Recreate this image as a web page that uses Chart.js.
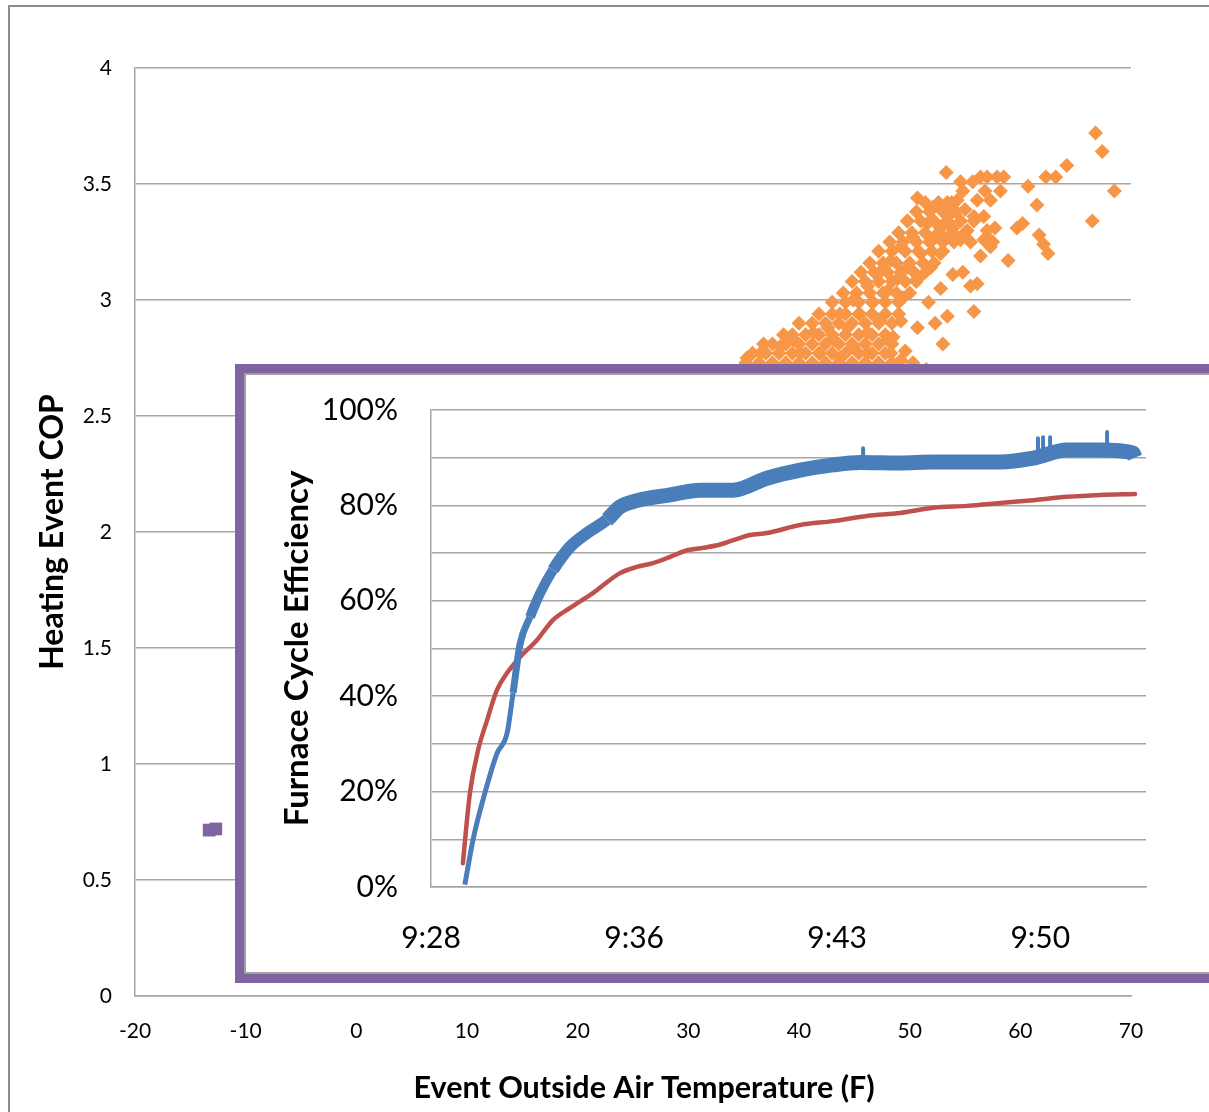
<!DOCTYPE html>
<html>
<head>
<meta charset="utf-8">
<script src="https://cdn.jsdelivr.net/npm/chart.js@4/dist/chart.umd.min.js"></script>
<style>
  html, body { margin: 0; padding: 0; overflow: hidden; background: #fff; width: 1209px; height: 1112px; }
  #frame { position: absolute; left: 8px; top: 5px; width: 1400px; height: 1300px;
           border-left: 2px solid #8c8c8c; border-top: 2px solid #8c8c8c; }
  #outer { position: absolute; left: 0; top: 0; }
  #insetBox { position: absolute; left: 235px; top: 364px; width: 1000px; height: 601px;
              border: 9px solid #8064A2; background: #fff; box-shadow: inset 0 0 0 2px #a0a0a0; }
  #inset { position: absolute; left: 0; top: 0; }
</style>
</head>
<body>
<div id="frame"></div>
<canvas id="outer" width="1209" height="1112"></canvas>
<div id="insetBox"><canvas id="inset" width="1000" height="601"></canvas></div>

<script>
// Outer chart: heat pump events (orange) and furnace events (purple)
const heatPumpTemp = [53.3, 66.8, 67.4, 68.5, 66.5, 64.2, 63.2, 62.3, 60.7, 61.5, 60.2, 59.7, 61.7, 62.1, 62.5,
    58.9, 56.4, 57.5, 57.0, 57.7, 55.8, 53.0, 54.8, 56.1, 55.5, 53.9, 52.8, 53.4, 52.3, 51.7, 50.7, 49.6, 48.5,
    50.3, 55.5, 56.4, 57.0, 57.9, 58.5, 54.6, 55.7, 54.8, 56.8, 58.2, 57.3, 56.1, 50.7, 52.1, 53.4, 54.3, 53.9,
    55.8, 56.7, 49.8, 51.6, 52.8, 53.9, 55.2, 57.0, 54.6, 56.7, 57.3, 52.1, 50.3, 49.2, 51.0, 52.8, 48.3, 49.8,
    51.9, 47.3, 48.9, 50.7, 46.2, 48.0, 49.4, 44.9, 46.7, 43.7, 45.5, 47.3, 49.2, 42.6, 44.4, 46.2, 48.0, 41.3,
    39.5, 43.1, 44.9, 38.3, 40.1, 41.9, 43.7, 46.2, 36.5, 35.3, 48.3, 49.2,
    53.2, 54.1, 55.0, 35.0, 51.5,
    // dense core, row by row
    35.2, 36.4, 37.6, 38.8, 40.0, 41.2, 42.4, 43.6, 44.8, 46.0, 47.2, 48.4,
    35.8, 37.0, 38.2, 39.4, 40.6, 41.8, 43.0, 44.2, 45.4, 46.6, 47.8,
    36.8, 37.6, 38.8, 40.0, 41.2, 42.4, 43.6, 44.8, 46.0, 47.2, 48.4,
    38.6, 39.4, 40.6, 41.8, 43.0, 44.2, 45.4, 46.6, 47.8,
    40.0, 41.2, 42.4, 43.6, 44.8, 46.0, 47.2, 48.4,
    41.8, 43.0, 44.2, 45.4, 46.6, 47.8, 49.0,
    43.0, 44.2, 45.4, 46.6, 47.8, 49.0,
    44.0, 45.2, 46.4, 47.6, 48.8, 50.0,
    44.8, 46.0, 47.2, 48.4, 49.6, 50.6,
    45.6, 46.8, 48.0, 49.2, 50.4, 51.4,
    46.4, 47.6, 48.8, 50.0, 51.2, 52.2,
    47.2, 48.4, 49.6, 50.8, 52.0, 53.0,
    48.2, 49.4, 50.6, 51.8, 53.0, 54.0,
    49.0, 50.2, 51.4, 52.6, 53.8, 55.0,
    49.8, 51.0, 52.2, 53.4, 54.6, 55.8,
    50.6, 51.8, 53.0, 54.2,
    51.4, 52.6, 53.8];
const heatPumpCop = [3.55, 3.72, 3.64, 3.47, 3.34, 3.58, 3.53, 3.53, 3.49, 3.41, 3.33, 3.31, 3.28, 3.24, 3.20,
    3.17, 3.19, 3.25, 3.27, 3.31, 2.95, 2.81, 3.12, 3.07, 3.06, 3.11, 3.05, 2.93, 2.90, 2.99, 2.88, 2.78, 2.84,
    2.73, 3.25, 3.53, 3.53, 3.53, 3.53, 3.51, 3.51, 3.47, 3.47, 3.47, 3.43, 3.43, 3.44, 3.40, 3.42, 3.43, 3.38,
    3.36, 3.36, 3.34, 3.33, 3.31, 3.31, 3.30, 3.30, 3.26, 3.26, 3.23, 3.26, 3.27, 3.23, 3.20, 3.20, 3.17, 3.14,
    3.14, 3.12, 3.09, 3.09, 3.06, 3.04, 3.01, 3.00, 2.99, 2.94, 2.94, 2.91, 2.91, 2.88, 2.88, 2.86, 2.83, 2.86,
    2.83, 2.83, 2.80, 2.80, 2.77, 2.77, 2.75, 2.77, 2.77, 2.75, 2.77, 2.74,
    3.26, 3.28, 3.39, 2.70, 2.70,
    2.73, 2.73, 2.73, 2.73, 2.73, 2.73, 2.73, 2.73, 2.73, 2.73, 2.73, 2.73,
    2.77, 2.77, 2.77, 2.77, 2.77, 2.77, 2.77, 2.77, 2.77, 2.77, 2.77,
    2.81, 2.81, 2.81, 2.81, 2.81, 2.81, 2.81, 2.81, 2.81, 2.81, 2.81,
    2.85, 2.85, 2.85, 2.85, 2.85, 2.85, 2.85, 2.85, 2.85,
    2.90, 2.90, 2.90, 2.90, 2.90, 2.90, 2.90, 2.90,
    2.94, 2.94, 2.94, 2.94, 2.94, 2.94, 2.94,
    2.99, 2.99, 2.99, 2.99, 2.99, 2.99,
    3.03, 3.03, 3.03, 3.03, 3.03, 3.03,
    3.08, 3.08, 3.08, 3.08, 3.08, 3.08,
    3.12, 3.12, 3.12, 3.12, 3.12, 3.12,
    3.16, 3.16, 3.16, 3.16, 3.16, 3.16,
    3.21, 3.21, 3.21, 3.21, 3.21, 3.21,
    3.25, 3.25, 3.25, 3.25, 3.25, 3.25,
    3.29, 3.29, 3.29, 3.29, 3.29, 3.29,
    3.34, 3.34, 3.34, 3.34, 3.34, 3.34,
    3.38, 3.38, 3.38, 3.38,
    3.42, 3.42, 3.42];
const furnaceTemp = [-13.3, -12.7];
const furnaceCop = [0.715, 0.72];

// Inset chart: minutes after the first axis label (9:28), efficiency in %
const insetTimeTicks = [0, 7.2, 14.4, 21.6];
const insetTimeLabels = ['9:28', '9:36', '9:43', '9:50'];

const measuredMin = [1.20, 1.49, 1.84, 2.34, 2.70, 2.91, 3.16, 3.51, 3.87, 4.33, 4.93, 5.53, 6.24, 6.70, 7.30,
    8.48, 9.54, 10.71, 11.91, 13.09, 14.26, 15.21, 16.63, 17.80, 19.01, 20.18, 21.35, 22.55, 23.72, 24.89, 24.96];
const measuredEff = [0.5, 9.9, 18.2, 28, 32.3, 40.7, 51, 56.6, 61.6, 66.5, 71.3, 74.2, 77, 79.7, 81,
    82.2, 83.2, 83.2, 85.7, 87.4, 88.5, 89, 88.9, 89.1, 89.1, 89.1, 89.9, 91.6, 91.6, 91, 90];

const spikeMin = [15.32, 15.32, 15.32, 21.52, 21.52, 21.52, 21.70, 21.70, 21.70, 21.95, 21.95, 21.95, 23.97, 23.97];
const spikeEff = [89, 92, null, 90, 94.1, null, 90, 94.3, null, 90.5, 94.3, null, 91.5, 95.4];

const modelMin = [1.13, 1.38, 1.67, 1.99, 2.34, 2.70, 3.16, 3.76, 4.33, 4.93, 5.74, 6.70, 7.30, 7.87, 8.48, 9.08,
    9.65, 10.25, 10.71, 11.31, 11.91, 13.09, 14.26, 15.46, 16.63, 17.80, 19.01, 20.18, 21.35, 22.55, 23.72, 24.96];
const modelEff = [5, 19.7, 28.7, 35, 41.3, 44.9, 48.2, 51.8, 56, 58.5, 61.6, 65.8, 67.1, 67.9, 69.2, 70.6,
    71.1, 71.8, 72.7, 73.8, 74.2, 75.9, 76.7, 77.8, 78.4, 79.5, 79.9, 80.5, 81.1, 81.8, 82.2, 82.4];

const FONT = 'Lato, "Liberation Sans", sans-serif';
const GRID = '#a6a6a6';

function zip(xs, ys) {
    return xs.map((x, i) => ({ x: x, y: ys[i] }));
}

Chart.defaults.font.family = FONT;
Chart.defaults.color = '#000';

new Chart(document.getElementById('outer'), {
    type: 'scatter',
    data: {
        datasets: [{
            data: zip(heatPumpTemp, heatPumpCop),
            pointStyle: 'rectRot',
            pointRadius: 7.5,
            backgroundColor: '#F79646',
            borderWidth: 0
        }, {
            data: zip(furnaceTemp, furnaceCop),
            pointStyle: 'rect',
            pointRadius: 9,
            backgroundColor: '#8064A2',
            borderWidth: 0
        }]
    },
    options: {
        responsive: false,
        animation: false,
        events: [],
        layout: { padding: { top: 68, right: 78, left: 0, bottom: 0 } },
        plugins: { legend: { display: false }, tooltip: { enabled: false } },
        scales: {
            x: {
                type: 'linear', min: -20, max: 70,
                ticks: { stepSize: 10, padding: 23, font: { size: 21 } },
                grid: { display: false, drawTicks: false },
                border: { color: GRID, width: 1.5 },
                title: {
                    display: true, text: '   Event Outside Air Temperature (F)',
                    font: { size: 30.5, weight: 'bold' }, padding: { top: 0, bottom: 6 }
                },
                afterFit: s => { s.height = 116; }
            },
            y: {
                min: 0, max: 4,
                ticks: { stepSize: 0.5, padding: 23, font: { size: 21 }, callback: v => String(v) },
                grid: { color: GRID, lineWidth: 1.5, drawTicks: false },
                border: { color: GRID, width: 1.5 },
                title: {
                    display: true, text: 'Heating Event COP',
                    font: { size: 32, weight: 'bold' }, padding: { top: 33, bottom: 0 }
                },
                afterFit: s => { s.width = 135; }
            }
        }
    }
});

// Blue trace gets thicker (noisier) once it levels off
const blueWidth = ctx => {
    const x = ctx.p0.parsed.x;
    if (x < 2.8) return 5;
    if (x < 3.3) return 7;
    if (x < 3.9) return 10;
    if (x < 6.0) return 12;
    return 15;
};

new Chart(document.getElementById('inset'), {
    type: 'line',
    data: {
        datasets: [{
            data: zip(measuredMin, measuredEff),
            borderColor: '#4A7EBB',
            borderWidth: 5,
            borderCapStyle: 'butt',
            borderJoinStyle: 'round',
            segment: { borderWidth: blueWidth },
            cubicInterpolationMode: 'monotone',
            pointRadius: 0
        }, {
            data: zip(spikeMin, spikeEff),
            borderColor: '#4A7EBB',
            borderWidth: 4,
            borderCapStyle: 'round',
            spanGaps: false,
            pointRadius: 0
        }, {
            data: zip(modelMin, modelEff),
            borderColor: '#C0504D',
            borderWidth: 4.5,
            borderCapStyle: 'round',
            cubicInterpolationMode: 'monotone',
            pointRadius: 0
        }]
    },
    options: {
        responsive: false,
        animation: false,
        events: [],
        layout: { padding: { top: 37, right: 98, left: 0, bottom: 0 } },
        plugins: { legend: { display: false }, tooltip: { enabled: false } },
        scales: {
            x: {
                type: 'linear', min: 0, max: 25.35,
                afterBuildTicks: s => { s.ticks = insetTimeTicks.map(v => ({ value: v })); },
                ticks: {
                    padding: 33, font: { size: 30 }, maxRotation: 0, autoSkip: false,
                    callback: (v, i) => insetTimeLabels[i]
                },
                grid: { display: false, drawTicks: false },
                border: { color: GRID, width: 1.5 },
                afterFit: s => { s.height = 87; }
            },
            y: {
                min: 0, max: 100,
                ticks: {
                    stepSize: 10, padding: 33, font: { size: 30 },
                    callback: v => (v % 20 === 0 ? v + '%' : '')
                },
                grid: { color: GRID, lineWidth: 1.5, drawTicks: false },
                border: { color: GRID, width: 1.5 },
                title: {
                    display: true, text: 'Furnace Cycle Efficiency',
                    font: { size: 33, weight: 'bold' }, padding: { top: 34, bottom: 0 }
                },
                afterFit: s => { s.width = 187; s.paddingTop = 0; s.paddingBottom = 0; }
            }
        }
    }
});
</script>
</body>
</html>
